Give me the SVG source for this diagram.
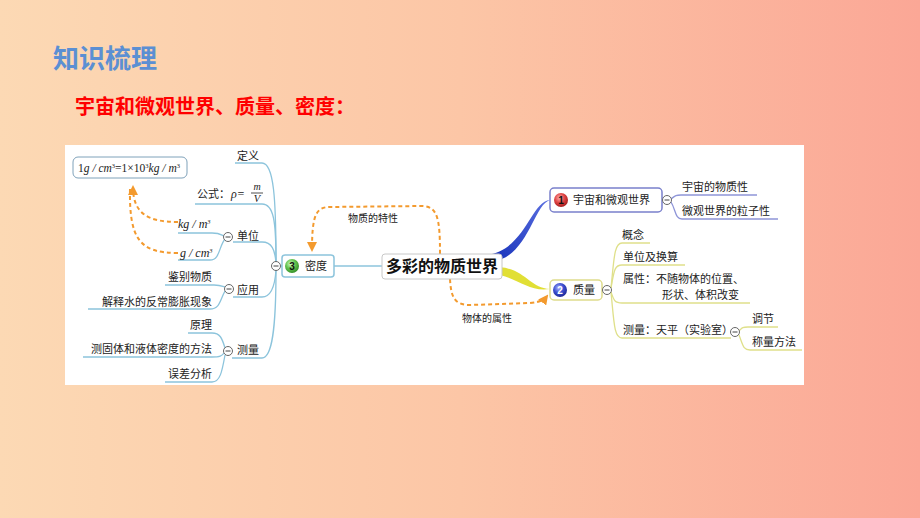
<svg xmlns="http://www.w3.org/2000/svg" width="920" height="518" viewBox="0 0 920 518">
<defs>
<linearGradient id="bg" x1="0" y1="0" x2="1" y2="0">
<stop offset="0" stop-color="#fcd9b4"/>
<stop offset="0.5" stop-color="#fcc6a6"/>
<stop offset="1" stop-color="#fba796"/>
</linearGradient>
<radialGradient id="gRed" cx="0.4" cy="0.35" r="0.7">
<stop offset="0" stop-color="#ffb0b0"/><stop offset="0.5" stop-color="#e04545"/><stop offset="1" stop-color="#a01818"/>
</radialGradient>
<radialGradient id="gBlue" cx="0.4" cy="0.35" r="0.7">
<stop offset="0" stop-color="#b0b8ff"/><stop offset="0.5" stop-color="#3c4fd0"/><stop offset="1" stop-color="#1a2490"/>
</radialGradient>
<radialGradient id="gGreen" cx="0.4" cy="0.35" r="0.7">
<stop offset="0" stop-color="#d0ffc0"/><stop offset="0.5" stop-color="#62c24e"/><stop offset="1" stop-color="#2f8a25"/>
</radialGradient>
<linearGradient id="gBlueBranch" x1="0" y1="1" x2="1" y2="0">
<stop offset="0" stop-color="#1430b8"/><stop offset="1" stop-color="#5a6ee0"/>
</linearGradient>
<marker id="arr" viewBox="0 0 10 10" refX="8" refY="5" markerWidth="5" markerHeight="5" orient="auto-start-reverse">
<path d="M0,0 L10,5 L0,10 Z" fill="#f39a2e"/>
</marker>
<style>
.t{font-family:"Noto Sans CJK SC","Noto Sans",sans-serif;font-size:11px;fill:#222}
.ser{font-family:"Liberation Serif",serif;fill:#222}
.lb{fill:none;stroke:#8cc4dc;stroke-width:1.3}
.lp{fill:none;stroke:#8e95d8;stroke-width:1.3}
.ly{fill:none;stroke:#dfe08a;stroke-width:1.3}
.dash{fill:none;stroke:#f39a2e;stroke-width:2;stroke-dasharray:4 3}
.col{fill:#fff;stroke:#666;stroke-width:1}
.minus{stroke:#444;stroke-width:1}
.hand{font-family:"Noto Sans CJK SC",sans-serif;font-size:10px;fill:#222}
</style>
</defs>
<rect x="0" y="0" width="920" height="518" fill="url(#bg)"/>
<text x="53" y="68" font-family="Noto Sans CJK SC, sans-serif" font-size="26" font-weight="bold" fill="#5b8fd3">知识梳理</text>
<text x="75" y="114" font-family="Noto Sans CJK SC, sans-serif" font-size="20" font-weight="bold" fill="#ff0000">宇宙和微观世界、质量、密度：</text>
<rect x="65" y="145" width="739" height="240" fill="#ffffff"/>

<g id="connectors">
<path class="lb" d="M281,266 H382"/>
<path class="lb" d="M276,262 C276,200 274,163 262,163 H235"/>
<path class="lb" d="M276,262 C276,222 274,204 262,204 H195"/>
<path class="lb" d="M276,263 C275,250 272,242 262,242 H233"/>
<path class="lb" d="M276,270 C275,285 272,297 262,297 H233"/>
<path class="lb" d="M276,270 C276,330 272,358 262,358 H232"/>
<path class="lb" d="M224,236 C220,234 219,233 212,233 H178"/>
<path class="lb" d="M225,239 C219,246 220,260 210,260 H178"/>
<path class="lb" d="M225,287 C222,286 220,285 214,285 H165"/>
<path class="lb" d="M225,291 C220,300 220,309 210,309 H88"/>
<path class="lb" d="M225,348 C222,338 220,333 212,333 H188"/>
<path class="lb" d="M224,353 C222,356 220,357 212,357 H83"/>
<path class="lb" d="M225,355 C222,372 220,382 212,382 H165"/>
<path d="M486,255 C526,250 530,202 550,200 C533,205 528,259 490,262 Z" fill="url(#gBlueBranch)"/>
<path d="M500,267 C526,270 530,288 550,289 C530,292 520,280 500,275 Z" fill="#e1df35"/>
<path class="lp" d="M671,199 C675,196 675,195 681,195 H757"/>
<path class="lp" d="M671,202 C676,210 675,219 682,219 H778"/>
<path class="ly" d="M611,288 C614,260 614,243 622,243 H650"/>
<path class="ly" d="M611,288 C614,272 614,265 622,265 H685"/>
<path class="ly" d="M611,292 C614,300 614,303 622,303 H750"/>
<path class="ly" d="M611,292 C614,322 614,338 622,338 H731"/>
<path class="ly" d="M739,331 C742,328 742,327 748,327 H778"/>
<path class="ly" d="M739,335 C743,345 743,350 750,350 H802"/>
<path class="dash" d="M178,222 C150,222 133,215 133,187" marker-end="url(#arr)"/>
<path class="dash" d="M178,253 C140,253 129,240 130,188"/>
<path class="dash" d="M440,254 C440,220 438,206 422,206 L330,207 C316,207 312,215 312,250" marker-end="url(#arr)"/>
<path class="dash" d="M450,279 C451,298 455,305 470,305 L530,303 C540,302 544,300 547,296" marker-end="url(#arr)"/>
<text class="hand" x="348" y="222">物质的特性</text>
<text class="hand" x="462" y="322">物体的属性</text>
</g>

<g id="node-center">
<rect x="382" y="254" width="120" height="25" rx="3" fill="#fff" stroke="#c8c8c8" stroke-width="1"/>
<text x="442" y="272" text-anchor="middle" font-family="Noto Sans CJK SC, sans-serif" font-size="16" font-weight="bold" fill="#111">多彩的物质世界</text>
</g>

<g id="node-density">
<rect x="282" y="255" width="52" height="22" rx="3" fill="#fff" stroke="#8cc4dc" stroke-width="1.5"/>
<circle cx="292" cy="266" r="7" fill="url(#gGreen)"/>
<text x="292" y="270" text-anchor="middle" font-family="Liberation Sans, sans-serif" font-size="10" font-weight="bold" fill="#111">3</text>
<text class="t" x="305" y="270">密度</text>
</g>
<g id="hub-density">
<circle class="col" cx="276" cy="266" r="4.5"/><path class="minus" d="M273.5,266 H278.5"/>
</g>

<g id="node-formula-box">
<rect x="73" y="157" width="114" height="21" rx="5" fill="#fff" stroke="#7fa2ba" stroke-width="1"/>
<text class="ser" x="78" y="172" font-size="11.5">1<tspan font-style="italic">g / cm</tspan><tspan font-size="6.5" dy="-4">3</tspan><tspan dy="4">=1×10</tspan><tspan font-size="6.5" dy="-4">3</tspan><tspan dy="4" font-style="italic">kg / m</tspan><tspan font-size="6.5" dy="-4">3</tspan></text>
</g>

<g id="node-def"><text class="t" x="237" y="160">定义</text></g>
<g id="node-formula">
<text class="t" x="197" y="198">公式：</text>
<text class="ser" x="231" y="198" font-size="12" font-style="italic">ρ=</text>
<text class="ser" x="257" y="190" font-size="10" font-style="italic" text-anchor="middle">m</text>
<path d="M251,193 H263" stroke="#222" stroke-width="0.8"/>
<text class="ser" x="257" y="202" font-size="10.5" font-style="italic" text-anchor="middle">V</text>
</g>
<g id="node-unit">
<circle class="col" cx="228" cy="237" r="4.5"/><path class="minus" d="M225.5,237 H230.5"/>
<text class="t" x="237" y="240">单位</text>
</g>
<g id="node-kgm3"><text class="ser" x="178" y="228" font-size="12" font-style="italic">kg / m<tspan font-size="6.5" dy="-4">3</tspan></text></g>
<g id="node-gcm3"><text class="ser" x="180" y="257" font-size="12" font-style="italic">g / cm<tspan font-size="6.5" dy="-4">3</tspan></text></g>
<g id="node-app">
<circle class="col" cx="229" cy="289" r="4.5"/><path class="minus" d="M226.5,289 H231.5"/>
<text class="t" x="237" y="294">应用</text>
</g>
<g id="node-identify"><text class="t" x="212" y="281" text-anchor="end">鉴别物质</text></g>
<g id="node-water"><text class="t" x="212" y="306" text-anchor="end" font-size="11.5">解释水的反常膨胀现象</text></g>
<g id="node-measure">
<circle class="col" cx="228" cy="351" r="4.5"/><path class="minus" d="M225.5,351 H230.5"/>
<text class="t" x="237" y="354">测量</text>
</g>
<g id="node-principle"><text class="t" x="212" y="329" text-anchor="end">原理</text></g>
<g id="node-method"><text class="t" x="212" y="353" text-anchor="end" font-size="11.5">测固体和液体密度的方法</text></g>
<g id="node-error"><text class="t" x="212" y="378" text-anchor="end">误差分析</text></g>

<g id="node-universe">
<rect x="550" y="188" width="112" height="24" rx="4" fill="#fff" stroke="#7a80cc" stroke-width="1.5"/>
<circle cx="561" cy="200" r="7" fill="url(#gRed)"/>
<text x="561" y="204" text-anchor="middle" font-family="Liberation Sans, sans-serif" font-size="10" font-weight="bold" fill="#111">1</text>
<text class="t" x="573" y="204" font-size="11.5">宇宙和微观世界</text>
<circle class="col" cx="667" cy="200" r="4.5"/><path class="minus" d="M664.5,200 H669.5"/>
</g>
<g id="node-u1"><text class="t" x="682" y="191">宇宙的物质性</text></g>
<g id="node-u2"><text class="t" x="682" y="215">微观世界的粒子性</text></g>

<g id="node-mass">
<rect x="550" y="280" width="52" height="20" rx="4" fill="#fff" stroke="#dedc8c" stroke-width="1.5"/>
<circle cx="560" cy="290" r="7" fill="url(#gBlue)"/>
<text x="560" y="294" text-anchor="middle" font-family="Liberation Sans, sans-serif" font-size="10" font-weight="bold" fill="#fff">2</text>
<text class="t" x="573" y="294">质量</text>
<circle class="col" cx="607" cy="290" r="4.5"/><path class="minus" d="M604.5,290 H609.5"/>
</g>
<g id="node-m1"><text class="t" x="622" y="239">概念</text></g>
<g id="node-m2"><text class="t" x="623" y="261">单位及换算</text></g>
<g id="node-m3">
<text class="t" x="623" y="283">属性：不随物体的位置、</text>
<text class="t" x="662" y="299">形状、体积改变</text>
</g>
<g id="node-m4">
<text class="t" x="623" y="334" font-size="10.5">测量：天平（实验室）</text>
<circle class="col" cx="735" cy="332" r="4.5"/><path class="minus" d="M732.5,332 H737.5"/>
</g>
<g id="node-m41"><text class="t" x="752" y="323">调节</text></g>
<g id="node-m42"><text class="t" x="752" y="346">称量方法</text></g>
</svg>
